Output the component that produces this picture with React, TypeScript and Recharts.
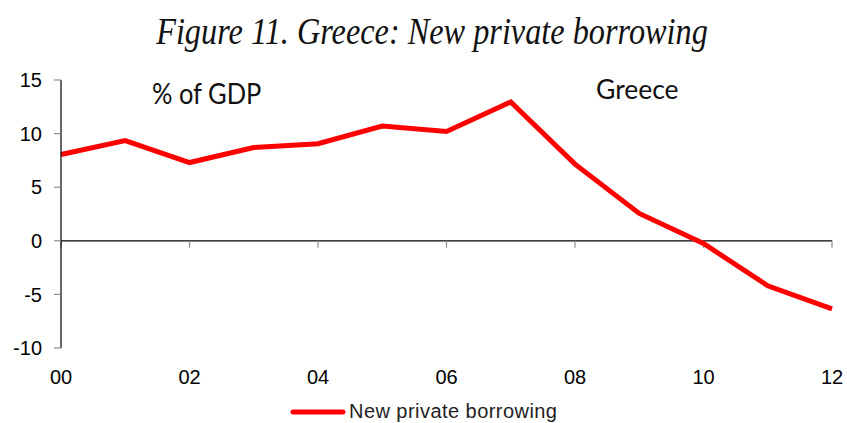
import React from 'react';
import { LineChart, Line, XAxis, YAxis, ReferenceLine, Legend } from 'recharts';

// Years shown on the category axis (two-digit labels)
const years = ['00', '01', '02', '03', '04', '05', '06', '07', '08', '09', '10', '11', '12'];
// New private borrowing, % of GDP
const borrowing = [8.05, 9.35, 7.3, 8.7, 9.05, 10.7, 10.2, 12.95, 7.15, 2.55, -0.25, -4.2, -6.35];
// Labelled positions on the axes
const xTickLabels = ['00', '02', '04', '06', '08', '10', '12'];
const yTicks = [-10, -5, 0, 5, 10, 15];

const data = years.map((year, i) => ({ year, value: borrowing[i] }));

const sans = '"Liberation Sans", Arial, sans-serif';
const humanist = 'Lato, "Open Sans", sans-serif';

const LegendContent = () => (
  <div
    style={{
      display: 'flex',
      alignItems: 'center',
      fontFamily: sans,
      fontSize: 20,
      letterSpacing: 0.45,
      color: '#222',
      whiteSpace: 'nowrap',
    }}
  >
    <svg width={56} height={10} style={{ marginRight: 3 }}>
      <line x1={3} y1={5} x2={53} y2={5} stroke="#ff0000" strokeWidth={5} strokeLinecap="round" />
    </svg>
    <span>New private borrowing</span>
  </div>
);

// Text drawn slightly taller than wide, anchored at its baseline
const TallText = ({ x, y, size, family, italic, anchor, stretch, children }: any) => (
  <text
    x={x}
    y={y}
    textAnchor={anchor}
    fontFamily={family}
    fontStyle={italic ? 'italic' : 'normal'}
    fontSize={size}
    fill="#111"
    transform={`translate(0 ${y}) scale(1 ${stretch}) translate(0 ${-y})`}
  >
    {children}
  </text>
);

export default function App() {
  return (
    <div style={{ position: 'absolute', left: 0, top: 0, width: 847, height: 423, background: '#fff' }}>
      <LineChart width={847} height={423} data={data} margin={{ top: 80, right: 15, bottom: 35, left: 1 }}>
        <XAxis
          dataKey="year"
          ticks={xTickLabels}
          interval={0}
          axisLine={false}
          tickLine={false}
          height={40}
          tickMargin={16}
          tick={{ fill: '#000', fontSize: 20, fontFamily: sans }}
        />
        <YAxis
          domain={[-10, 15]}
          ticks={yTicks}
          width={60}
          axisLine={{ stroke: '#000', strokeWidth: 1.2 }}
          tickLine={{ stroke: '#8c8c8c', strokeWidth: 1.2 }}
          tickSize={7}
          tickMargin={12}
          tick={{ fill: '#000', fontSize: 20, fontFamily: sans }}
        />
        <ReferenceLine y={0} stroke="#000" strokeWidth={1.2} />
        {xTickLabels.map((lbl) => (
          <ReferenceLine
            key={lbl}
            segment={[
              { x: lbl, y: 0 },
              { x: lbl, y: -0.65 },
            ]}
            stroke="#8c8c8c"
            strokeWidth={1.2}
          />
        ))}
        <Line
          type="linear"
          dataKey="value"
          name="New private borrowing"
          stroke="#ff0000"
          strokeWidth={5}
          dot={false}
          activeDot={false}
          isAnimationActive={false}
        />
        <Legend
          layout="horizontal"
          verticalAlign="middle"
          align="center"
          content={<LegendContent />}
          wrapperStyle={{ top: 400, left: 290, width: 'auto', height: 'auto' }}
        />
      </LineChart>
      <svg
        width={847}
        height={423}
        style={{ position: 'absolute', left: 0, top: 0, pointerEvents: 'none' }}
      >
        <TallText x={432} y={44} size={32.3} family='"Liberation Serif", "DejaVu Serif", serif' italic anchor="middle" stretch={1.2}>
          Figure 11. Greece: New private borrowing
        </TallText>
        <TallText x={152} y={104} size={25.5} family={humanist} anchor="start" stretch={1.1}>
          % of GDP
        </TallText>
        <TallText x={596} y={99} size={26.5} family={humanist} anchor="start" stretch={1.05}>
          Greece
        </TallText>
      </svg>
    </div>
  );
}
